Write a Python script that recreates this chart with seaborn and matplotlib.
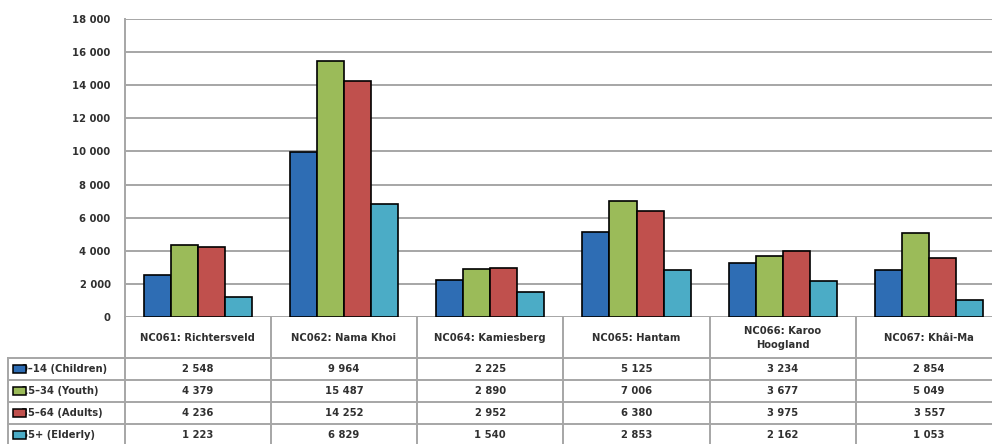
import matplotlib
matplotlib.use("Agg")
import matplotlib.pyplot as plt
import matplotlib.transforms as mtransforms
from matplotlib.patches import Rectangle
import seaborn as sns
import pandas as pd

# ---------------- data ----------------
categories = ["NC061: Richtersveld", "NC062: Nama Khoi", "NC064: Kamiesberg",
              "NC065: Hantam", "NC066: Karoo\nHoogland", "NC067: Khâi-Ma"]
groups = ["0–14 (Children)", "15–34 (Youth)", "35–64 (Adults)", "65+ (Elderly)"]
children = [2548, 9964, 2225, 5125, 3234, 2854]
youth = [4379, 15487, 2890, 7006, 3677, 5049]
adults = [4236, 14252, 2952, 6380, 3975, 3557]
elderly = [1223, 6829, 1540, 2853, 2162, 1053]
yticks = list(range(0, 18001, 2000))
colors = ["#2E6DB4", "#9BBB59", "#C0504D", "#4BACC6"]

series = [children, youth, adults, elderly]
rows = []
for g, vals in zip(groups, series):
    for c, v in zip(categories, vals):
        rows.append({"cat": c, "group": g, "value": v})
df = pd.DataFrame(rows)

def fmt(v):
    return f"{v:,}".replace(",", " ")

# ---------------- figure / layout ----------------
W, H = 992, 444
fig = plt.figure(figsize=(W / 100, H / 100), dpi=100)
AX_L, AX_R = 124.5, 1002.3
AX_T, AX_B = 19, 317
ax = fig.add_axes([AX_L / W, 1 - AX_B / H, (AX_R - AX_L) / W, (AX_B - AX_T) / H])

FONT = "DejaVu Sans"
FS = 7.2
FW = "bold"
TXT = "#303030"
GRID = "#A6A6A6"

ax.set_axisbelow(True)
ax.yaxis.grid(True, color=GRID, linewidth=1.4)
sns.barplot(data=df, x="cat", y="value", hue="group", hue_order=groups,
            order=categories, palette=colors, saturation=1, width=0.74,
            edgecolor="black", linewidth=1.2, ax=ax, legend=False)

ax.set_xlim(-0.5, len(categories) - 0.5)
ax.set_ylim(0, 18000)
ax.set_yticks(yticks)
ax.set_yticklabels([fmt(t) for t in yticks], fontsize=FS, family=FONT,
                   color=TXT, fontweight=FW)
ax.tick_params(axis="y", length=0, pad=10)
ax.set_xticks([])
ax.set_xlabel("")
ax.set_ylabel("")
for s in ["top", "right", "bottom"]:
    ax.spines[s].set_visible(False)
ax.spines["left"].set_color(GRID)
ax.spines["left"].set_linewidth(1.4)

# ---------------- data table ----------------
def ay(py):
    return (AX_B - py) / (AX_B - AX_T)

def axx(px):
    return (px - AX_L) / (AX_R - AX_L)

blend = mtransforms.blended_transform_factory(ax.transData, ax.transAxes)
n = len(categories)
row_lines = [358, 380, 402, 424]
bottom = 450
LEG_L = 8

for k in range(n + 1):
    ax.plot([k - 0.5, k - 0.5], [ay(AX_B), ay(bottom)], transform=blend,
            color=GRID, lw=1.4, clip_on=False)
ax.plot([axx(LEG_L), axx(LEG_L)], [ay(row_lines[0]), ay(bottom)],
        transform=ax.transAxes, color=GRID, lw=1.4, clip_on=False)
for py in row_lines:
    ax.plot([axx(LEG_L), 1.0], [ay(py), ay(py)], transform=ax.transAxes,
            color=GRID, lw=1.4, clip_on=False)

for i, c in enumerate(categories):
    ax.text(i, ay(338), c, transform=blend, ha="center", va="center",
            fontsize=FS, family=FONT, color=TXT, fontweight=FW, linespacing=1.55)

row_centers = [369, 391, 413, 435]
for r, (g, vals, col) in enumerate(zip(groups, series, colors)):
    yc = ay(row_centers[r])
    for i, v in enumerate(vals):
        ax.text(i, yc, fmt(v), transform=blend, ha="center", va="center",
                fontsize=FS, family=FONT, color=TXT, fontweight=FW)
    kh = 8 / (AX_B - AX_T)
    ax.add_patch(Rectangle((axx(13), yc - kh / 2), axx(26) - axx(13), kh,
                           transform=ax.transAxes, facecolor=col,
                           edgecolor="black", lw=1.1, clip_on=False, zorder=5))
    t = ax.text(axx(21), yc, g, transform=ax.transAxes, ha="left", va="center",
                fontsize=FS, family=FONT, color=TXT, fontweight=FW, zorder=4)
    x0, y0 = fig.transFigure.transform((LEG_L / W, 0))
    x1, y1 = fig.transFigure.transform((AX_L / W, 1))
    t.set_clip_box(mtransforms.Bbox([[x0, y0], [x1 - 1, y1]]))
    t.set_clip_on(True)

fig.savefig("out.png", dpi=100, facecolor="white")
